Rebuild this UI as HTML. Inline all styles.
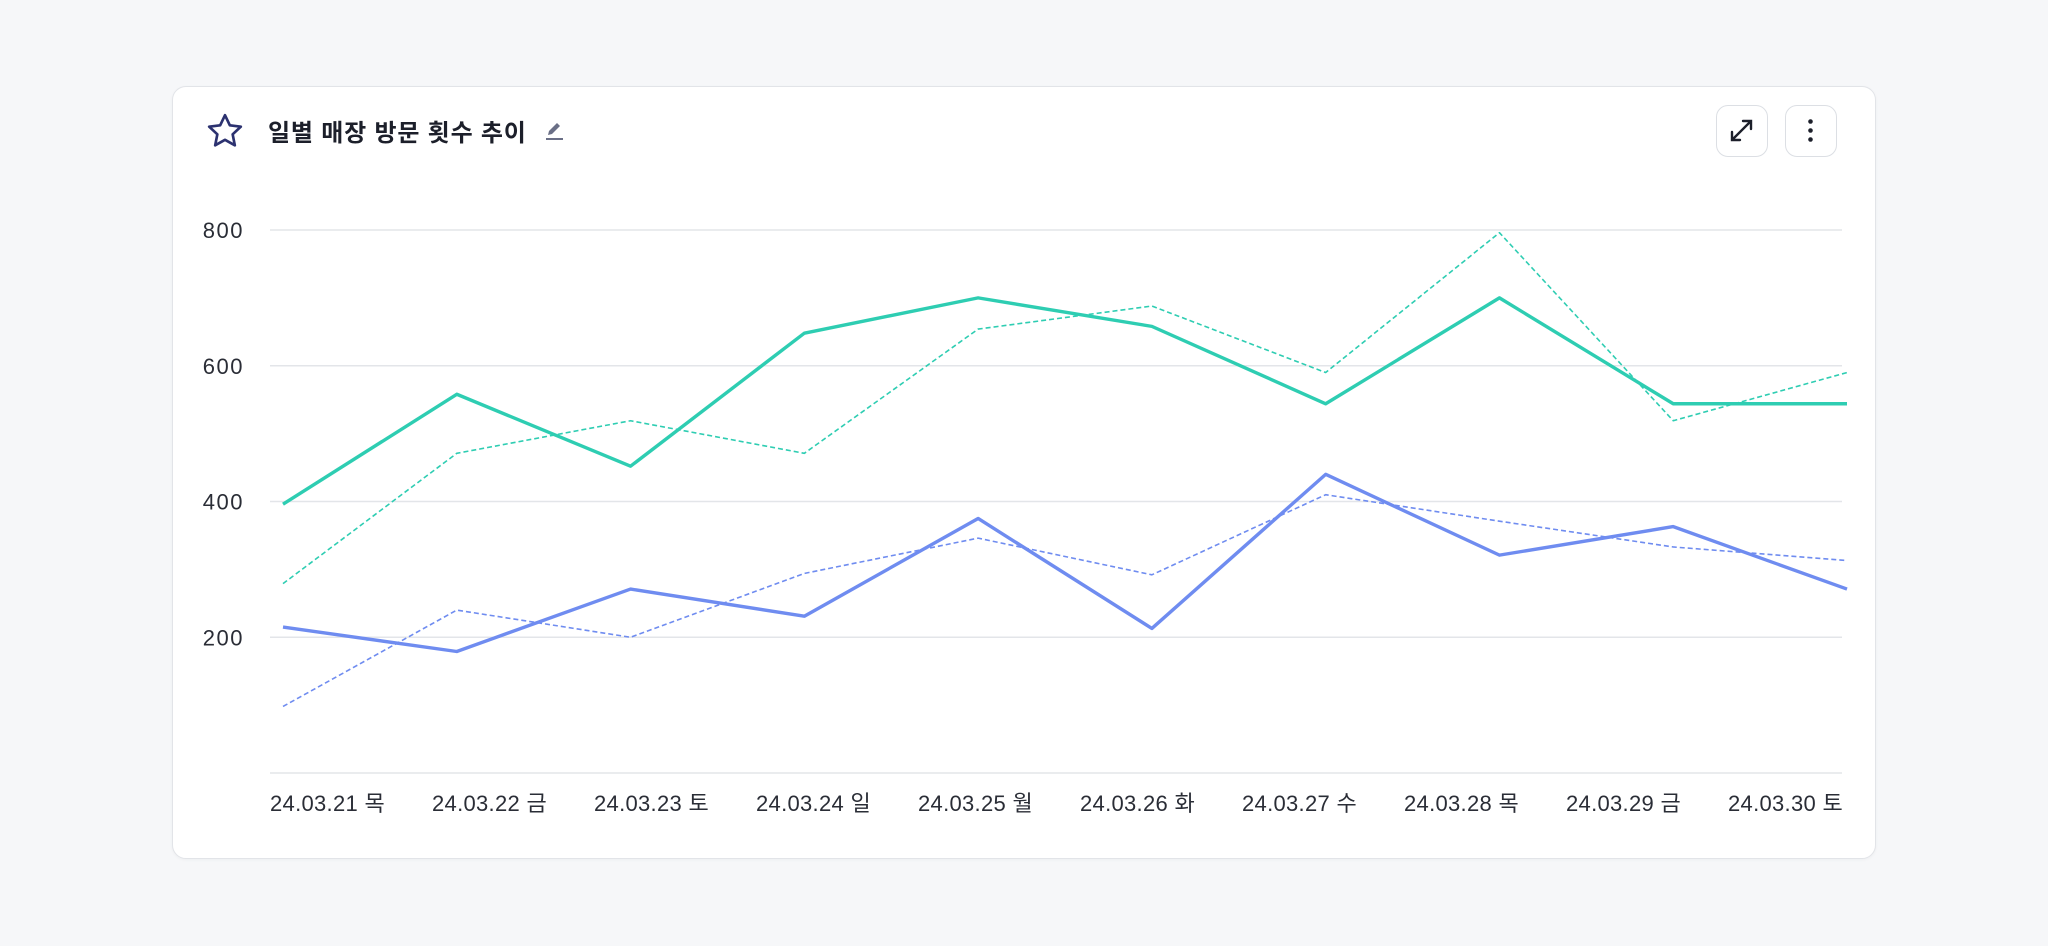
<!DOCTYPE html>
<html><head><meta charset="utf-8"><style>
html,body{margin:0;padding:0;background:#f6f7f9;width:2048px;height:946px;overflow:hidden;font-family:"Liberation Sans","Noto Sans CJK KR",sans-serif;}
.card{position:absolute;left:172px;top:86px;width:1704px;height:773px;background:#fff;border:1px solid #e2e4e8;border-radius:14px;box-sizing:border-box;box-shadow:0 1px 3px rgba(0,0,0,0.04);}
.title{position:absolute;left:268px;top:113px;font-size:24px;letter-spacing:0.8px;font-weight:bold;color:#1c1f2a;}
.btn{position:absolute;top:105px;width:52px;height:52px;border:1.5px solid #dcdfe4;border-radius:12px;box-sizing:border-box;background:#fff;}
</style></head><body>
<div class="card"></div>
<svg style="position:absolute;left:205px;top:111px" width="40" height="40" viewBox="0 0 24 24"><path d="M12 2.5l2.9 6.1 6.6.8-4.9 4.6 1.3 6.6L12 17.3l-5.9 3.3 1.3-6.6-4.9-4.6 6.6-.8z" fill="none" stroke="#2c3270" stroke-width="1.6" stroke-linejoin="round"/></svg>
<div class="title">일별 매장 방문 횟수 추이</div>
<svg style="position:absolute;left:543px;top:118px" width="24" height="24" viewBox="0 0 24 24"><path d="M5 17l1-4 8-8 3 3-8 8z" fill="#6a6f86"/><rect x="3" y="20" width="17" height="2" fill="#6a6f86"/></svg>
<div class="btn" style="left:1716px"><svg width="49" height="49" viewBox="0 0 49 49"><g stroke="#1c1f2a" stroke-width="2.4" fill="none" stroke-linecap="round"><path d="M15 34L34 15M26 15h8v8M15 26v8h8"/></g></svg></div>
<div class="btn" style="left:1785px"><svg width="49" height="49" viewBox="0 0 49 49"><g fill="#1c1f2a"><circle cx="24.5" cy="15.5" r="2.3"/><circle cx="24.5" cy="24.5" r="2.3"/><circle cx="24.5" cy="33.5" r="2.3"/></g></svg></div>
<svg id="chart" style="position:absolute;left:0;top:0" width="2048" height="946"></svg>
<script>
const categories=["24.03.21 목","24.03.22 금","24.03.23 토","24.03.24 일","24.03.25 월","24.03.26 화","24.03.27 수","24.03.28 목","24.03.29 금","24.03.30 토"];
const yTicks=[200,400,600,800];
const greenCurrent=[396,558,452,648,700,658,544,700,544,544];
const greenPrev=[279,471,519,471,654,688,590,796,519,590];
const blueCurrent=[215,179,271,231,375,213,440,321,363,271];
const bluePrev=[98,240,200,294,346,292,410,371,333,313];
const NS="http://www.w3.org/2000/svg";
const svg=document.getElementById('chart');
const x=i=>283+i*(1847-283)/(categories.length-1);
const y=v=>773-v*(773-230)/800;
function mk(t,a){const e=document.createElementNS(NS,t);for(const k in a)e.setAttribute(k,a[k]);svg.appendChild(e);return e;}
const base=mk('line',{x1:270,x2:1842,y1:y(0),y2:y(0),stroke:'#e3e5e9','stroke-width':1.5});


yTicks.forEach(t=>{
 const g=mk('line',{x1:270,x2:1842,y1:y(t),y2:y(t),stroke:'#e3e5e9','stroke-width':1.5});
 
 
 const l=mk('text',{x:244,y:y(t)+8,'text-anchor':'end','font-size':22,'letter-spacing':1.5,fill:'#2a2d36','font-family':'Liberation Sans, Noto Sans CJK KR, sans-serif'});
 l.textContent=t;
 
 
});
categories.forEach((c,i)=>{
 const l=mk('text',{x:270+i*162,y:811,'font-size':22,'letter-spacing':0.3,fill:'#2a2d36','font-family':'Liberation Sans, Noto Sans CJK KR, sans-serif'});
 l.textContent=c;
 
 
});
function line(d,color,dash,name){
 const p=mk('polyline',{points:d.map((v,i)=>x(i)+','+y(v)).join(' '),fill:'none',stroke:color,'stroke-width':dash?1.6:3.4,'stroke-linejoin':'round'});
 if(dash)p.setAttribute('stroke-dasharray','5 3');
 
 
}
line(greenPrev,'#2ecdb2',true,'series-green-previous');
line(bluePrev,'#6f8cf0',true,'series-blue-previous');
line(greenCurrent,'#2ecdb2',false,'series-green-current');
line(blueCurrent,'#6f8cf0',false,'series-blue-current');
</script>
</body></html>
